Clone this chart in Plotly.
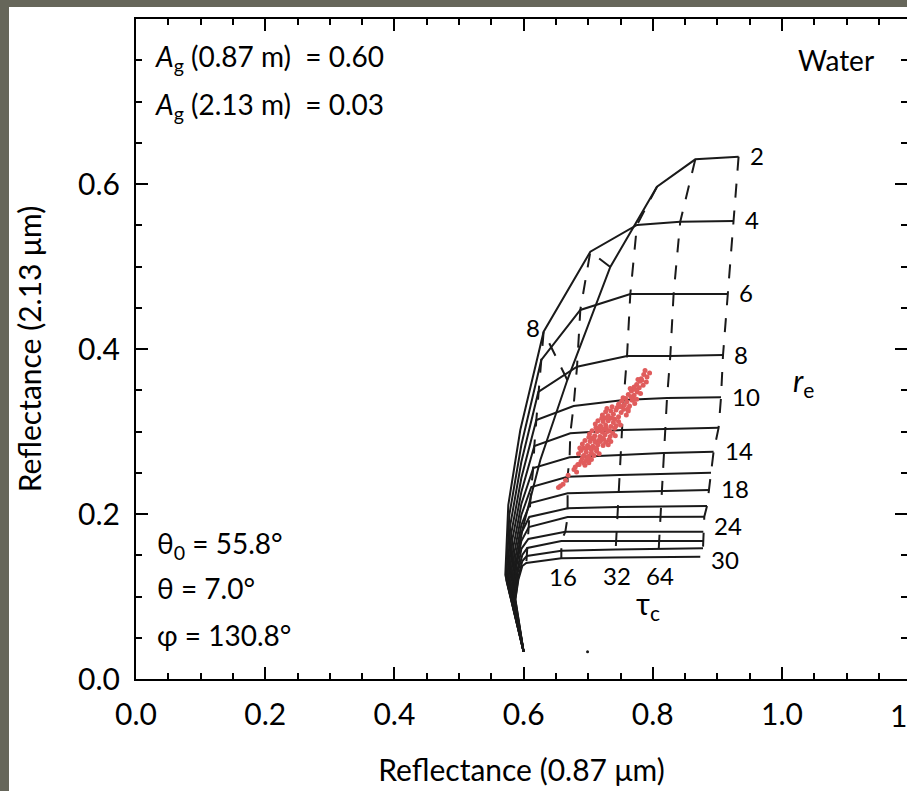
import plotly.graph_objects as go

# ---------------- data ----------------
tau_c = [0, 1, 2, 4, 8, 16, 32, 64, 128]
r_e = [2, 4, 6, 8, 10, 12, 14, 16, 18, 20, 22, 24, 26, 28, 30]

# Reflectance at 0.87 um, one row per r_e, columns follow tau_c
refl_087 = [
    [0.600, 0.5825, 0.5980, 0.6259, 0.6677, 0.7342, 0.8065, 0.8658, 0.9328],
    [0.600, 0.5717, 0.5763, 0.5949, 0.6310, 0.7033, 0.7755, 0.8425, 0.9251],
    [0.600, 0.5732, 0.5779, 0.5965, 0.6274, 0.6878, 0.7652, 0.8322, 0.9158],
    [0.600, 0.5748, 0.5794, 0.5965, 0.6228, 0.6827, 0.7601, 0.8271, 0.9087],
    [0.600, 0.5763, 0.5810, 0.5965, 0.6197, 0.6774, 0.7548, 0.8220, 0.9056],
    [0.600, 0.5779, 0.5825, 0.5965, 0.6166, 0.6723, 0.7523, 0.8193, 0.9019],
    [0.600, 0.5794, 0.5841, 0.5965, 0.6150, 0.6712, 0.7505, 0.8167, 0.8941],
    [0.600, 0.5810, 0.5856, 0.5965, 0.6119, 0.6681, 0.7489, 0.8155, 0.8901],
    [0.600, 0.5825, 0.5872, 0.5965, 0.6104, 0.6681, 0.7471, 0.8142, 0.8879],
    [0.600, 0.5841, 0.5887, 0.5965, 0.6088, 0.6681, 0.7458, 0.8127, 0.8839],
    [0.600, 0.5841, 0.5887, 0.5965, 0.6081, 0.6681, 0.7451, 0.8116, 0.8797],
    [0.600, 0.5856, 0.5903, 0.5965, 0.6073, 0.6646, 0.7440, 0.8105, 0.8782],
    [0.600, 0.5856, 0.5903, 0.5980, 0.6057, 0.6584, 0.7430, 0.8096, 0.8777],
    [0.600, 0.5872, 0.5918, 0.5980, 0.6050, 0.6584, 0.7424, 0.8090, 0.8777],
    [0.600, 0.5872, 0.5918, 0.5980, 0.6042, 0.6584, 0.7419, 0.8085, 0.8735],
]
# Reflectance at 2.13 um
refl_213 = [
    [0.033, 0.1139, 0.1806, 0.2655, 0.3624, 0.4994, 0.5967, 0.6299, 0.6331],
    [0.033, 0.1261, 0.2109, 0.3018, 0.4210, 0.5179, 0.5503, 0.5543, 0.5552],
    [0.033, 0.1200, 0.1988, 0.2836, 0.3867, 0.4473, 0.4667, 0.4667, 0.4667],
    [0.033, 0.1164, 0.1867, 0.2630, 0.3479, 0.3785, 0.3915, 0.3915, 0.3927],
    [0.033, 0.1127, 0.1770, 0.2436, 0.3139, 0.3309, 0.3382, 0.3406, 0.3415],
    [0.033, 0.1091, 0.1685, 0.2267, 0.2824, 0.2978, 0.3018, 0.3030, 0.3046],
    [0.033, 0.1067, 0.1600, 0.2121, 0.2558, 0.2687, 0.2715, 0.2739, 0.2755],
    [0.033, 0.1042, 0.1527, 0.1988, 0.2327, 0.2452, 0.2473, 0.2485, 0.2501],
    [0.033, 0.1018, 0.1467, 0.1867, 0.2133, 0.2251, 0.2267, 0.2279, 0.2291],
    [0.033, 0.1006, 0.1406, 0.1770, 0.1964, 0.2069, 0.2085, 0.2091, 0.2097],
    [0.033, 0.0994, 0.1358, 0.1673, 0.1842, 0.1964, 0.1964, 0.1967, 0.1967],
    [0.033, 0.0982, 0.1309, 0.1576, 0.1697, 0.1785, 0.1785, 0.1785, 0.1785],
    [0.033, 0.0970, 0.1273, 0.1503, 0.1588, 0.1673, 0.1673, 0.1673, 0.1673],
    [0.033, 0.0970, 0.1236, 0.1430, 0.1491, 0.1555, 0.1570, 0.1576, 0.1584],
    [0.033, 0.0958, 0.1200, 0.1370, 0.1406, 0.1463, 0.1473, 0.1479, 0.1482],
]
dashed_tau = [8, 16, 32, 64, 128]
labelled_re = [2, 4, 6, 8, 10, 14, 18, 24, 30]
labelled_tau = [16, 32, 64]

# Observed pixels (red dots), listed row by row from top-right to bottom-left
obs_087 = [
    0.786, 0.791, 0.795, 0.788, 0.782,
    0.775, 0.780, 0.785, 0.790, 0.777, 0.783, 0.771,
    0.762, 0.767, 0.771, 0.776, 0.781, 0.765, 0.773, 0.769, 0.779,
    0.747, 0.752, 0.756, 0.760, 0.764, 0.768, 0.772, 0.750, 0.758, 0.775, 0.762, 0.754, 0.766,
    0.722, 0.727, 0.731, 0.735, 0.739, 0.743, 0.747, 0.751, 0.755, 0.759, 0.762, 0.733, 0.741, 0.729, 0.745, 0.737, 0.749, 0.725,
    0.711, 0.715, 0.719, 0.723, 0.727, 0.731, 0.735, 0.739, 0.743, 0.747, 0.750, 0.717, 0.725, 0.733, 0.737, 0.721, 0.729, 0.741, 0.713,
    0.702, 0.706, 0.710, 0.714, 0.718, 0.722, 0.726, 0.730, 0.734, 0.738, 0.742, 0.708, 0.716, 0.724, 0.728, 0.712, 0.720, 0.732, 0.704,
    0.691, 0.695, 0.699, 0.703, 0.707, 0.711, 0.715, 0.719, 0.723, 0.727, 0.731, 0.735, 0.697, 0.705, 0.713, 0.701, 0.709, 0.721, 0.693,
    0.685, 0.689, 0.693, 0.697, 0.701, 0.705, 0.709, 0.713, 0.717, 0.691, 0.699, 0.687, 0.703, 0.711,
    0.689, 0.693, 0.697, 0.701, 0.705, 0.695, 0.686, 0.699,
    0.678, 0.682, 0.680, 0.684,
    0.665, 0.657, 0.654, 0.661, 0.669,
]
obs_213 = [
    0.369, 0.366, 0.371, 0.374, 0.364,
    0.357, 0.361, 0.356, 0.360, 0.363, 0.362, 0.354,
    0.345, 0.349, 0.344, 0.348, 0.346, 0.352, 0.351, 0.340, 0.353,
    0.333, 0.337, 0.332, 0.336, 0.331, 0.338, 0.334, 0.330, 0.340, 0.339, 0.328, 0.341, 0.342,
    0.320, 0.324, 0.319, 0.325, 0.321, 0.326, 0.318, 0.323, 0.327, 0.320, 0.325, 0.316, 0.315, 0.328, 0.329, 0.330, 0.331, 0.316,
    0.309, 0.313, 0.307, 0.312, 0.308, 0.313, 0.306, 0.311, 0.307, 0.312, 0.308, 0.302, 0.303, 0.301, 0.316, 0.316, 0.317, 0.304, 0.304,
    0.297, 0.301, 0.295, 0.300, 0.294, 0.299, 0.296, 0.300, 0.294, 0.298, 0.295, 0.291, 0.289, 0.291, 0.304, 0.305, 0.305, 0.290, 0.292,
    0.285, 0.289, 0.283, 0.288, 0.282, 0.287, 0.284, 0.288, 0.283, 0.287, 0.284, 0.288, 0.279, 0.278, 0.279, 0.293, 0.292, 0.292, 0.280,
    0.273, 0.277, 0.271, 0.275, 0.270, 0.274, 0.271, 0.276, 0.273, 0.268, 0.266, 0.280, 0.280, 0.280,
    0.264, 0.262, 0.265, 0.262, 0.266, 0.259, 0.260, 0.268,
    0.254, 0.251, 0.257, 0.260,
    0.241, 0.234, 0.232, 0.236, 0.247,
]
stray_087 = [0.699]
stray_213 = [0.033]

# ---------------- figure ----------------
FONT = "Lato"
LINE = "#1a1a1a"
fig = go.Figure()

for i, re in enumerate(r_e):
    fig.add_trace(go.Scatter(x=refl_087[i], y=refl_213[i], mode="lines",
                             line=dict(color=LINE, width=2), showlegend=False,
                             name=f"r_e={re}", hoverinfo="skip"))
for t in dashed_tau:
    j = tau_c.index(t)
    fig.add_trace(go.Scatter(x=[row[j] for row in refl_087], y=[row[j] for row in refl_213],
                             mode="lines", line=dict(color=LINE, width=2, dash="14px,13px"),
                             showlegend=False, name=f"tau={t}", hoverinfo="skip"))

fig.add_trace(go.Scatter(x=obs_087, y=obs_213, mode="markers",
                         marker=dict(color="#e05c5c", size=5, line=dict(width=0)),
                         showlegend=False, name="observed"))
fig.add_trace(go.Scatter(x=stray_087, y=stray_213, mode="markers",
                         marker=dict(color=LINE, size=3), showlegend=False))
# carrier for the right-hand tick axis
fig.add_trace(go.Scatter(x=[None], y=[None], yaxis="y2", showlegend=False, hoverinfo="skip"))

label_dy = {24: 5, 30: -4}
ann = []
for re in labelled_re:
    i = r_e.index(re)
    ann.append(dict(x=refl_087[i][-1], y=refl_213[i][-1], xref="x", yref="y", text=str(re),
                    showarrow=False, xanchor="left", xshift=9, yshift=1 + label_dy.get(re, 0),
                    font=dict(family=FONT, size=24, color="black")))
for t in labelled_tau:
    j = tau_c.index(t)
    ann.append(dict(x=refl_087[-1][j], y=refl_213[-1][j], xref="x", yref="y", text=str(t),
                    showarrow=False, yanchor="top", yshift=-2, xshift=2,
                    font=dict(family=FONT, size=24, color="black")))
j8 = tau_c.index(8)
ann.append(dict(x=refl_087[1][j8], y=refl_213[1][j8], xref="x", yref="y", text="8",
                showarrow=False, xanchor="right", xshift=-2, yshift=4,
                font=dict(family=FONT, size=24, color="black")))

txt = dict(family=FONT, size=28, color="black")
ann += [
    dict(x=0.027, y=0.753, xref="x", yref="y", text="<i>A</i><sub>g</sub> (0.87 m)  = 0.60",
         showarrow=False, xanchor="left", yanchor="middle", font=txt),
    dict(x=0.027, y=0.6945, xref="x", yref="y", text="<i>A</i><sub>g</sub> (2.13 m)  = 0.03",
         showarrow=False, xanchor="left", yanchor="middle", font=txt),
    dict(x=1.084, y=0.750, xref="x", yref="y", text="Water",
         showarrow=False, xanchor="center", yanchor="middle", font=txt),
    dict(x=0.030, y=0.1624, xref="x", yref="y", text="θ<sub>0</sub> = 55.8°",
         showarrow=False, xanchor="left", yanchor="middle", font=txt),
    dict(x=0.030, y=0.1103, xref="x", yref="y", text="θ = 7.0°",
         showarrow=False, xanchor="left", yanchor="middle", font=txt),
    dict(x=0.030, y=0.0533, xref="x", yref="y", text="φ = 130.8°",
         showarrow=False, xanchor="left", yanchor="middle", font=txt),
    dict(x=0.792, y=0.0897, xref="x", yref="y", text="τ<sub>c</sub>",
         showarrow=False, xanchor="center", yanchor="middle",
         font=dict(family=FONT, size=30, color="black")),
    dict(x=1.033, y=0.360, xref="x", yref="y", text="<i>r</i><sub>e</sub>",
         showarrow=False, xanchor="center", yanchor="middle",
         font=dict(family=FONT, size=30, color="black")),
    dict(x=1.2 / 1.1935, y=0, xref="paper", yref="paper", text="1.2",
         showarrow=False, xanchor="center", yanchor="top", yshift=-16,
         font=dict(family=FONT, size=30, color="black")),
]

minor = dict(dtick=0.05, ticks="inside", ticklen=6, tickwidth=1.5, tickcolor="black", showgrid=False)
tickfont = dict(family=FONT, size=30, color="black")
fig.update_layout(
    width=907, height=791,
    margin=dict(l=136, r=0, t=19, b=112),
    paper_bgcolor="#66665a",
    plot_bgcolor="white",
    xaxis=dict(range=[0, 1.1935], tickmode="linear", tick0=0, dtick=0.2, tickformat=".1f",
               ticks="inside", ticklen=12, tickwidth=2, tickcolor="black",
               showline=True, linecolor="black", linewidth=2, mirror="ticks",
               showgrid=False, zeroline=False, minor=minor, tickfont=tickfont,
               ticklabelstandoff=8,
               title=dict(text="Reflectance (0.87 μm)", standoff=30,
                          font=dict(family=FONT, size=30, color="black"))),
    yaxis=dict(range=[0, 0.8], tickmode="linear", tick0=0, dtick=0.2, tickformat=".1f",
               ticks="inside", ticklen=12, tickwidth=2, tickcolor="black",
               showline=True, linecolor="black", linewidth=2, mirror=False,
               showgrid=False, zeroline=False, minor=minor, tickfont=tickfont,
               ticklabelstandoff=8,
               title=dict(text="Reflectance (2.13 μm)", standoff=28,
                          font=dict(family=FONT, size=30, color="black"))),
    yaxis2=dict(overlaying="y", side="right", range=[0, 0.8], tickmode="linear", tick0=0,
                dtick=0.2, ticks="inside", ticklen=12, tickwidth=2, tickcolor="black",
                showline=False, showticklabels=False, showgrid=False, zeroline=False,
                minor=minor),
    annotations=ann,
    shapes=[dict(type="rect", xref="paper", yref="paper", x0=(9 - 136) / 771, x1=1.05,
                 y0=-0.2, y1=(679 - 7) / 660, fillcolor="white", line=dict(width=0),
                 layer="below")],
)

fig.write_html("out.html",
               config={"displayModeBar": False},
               post_script="document.body.style.margin='0px';"
                           "document.body.style.overflow='hidden';")
